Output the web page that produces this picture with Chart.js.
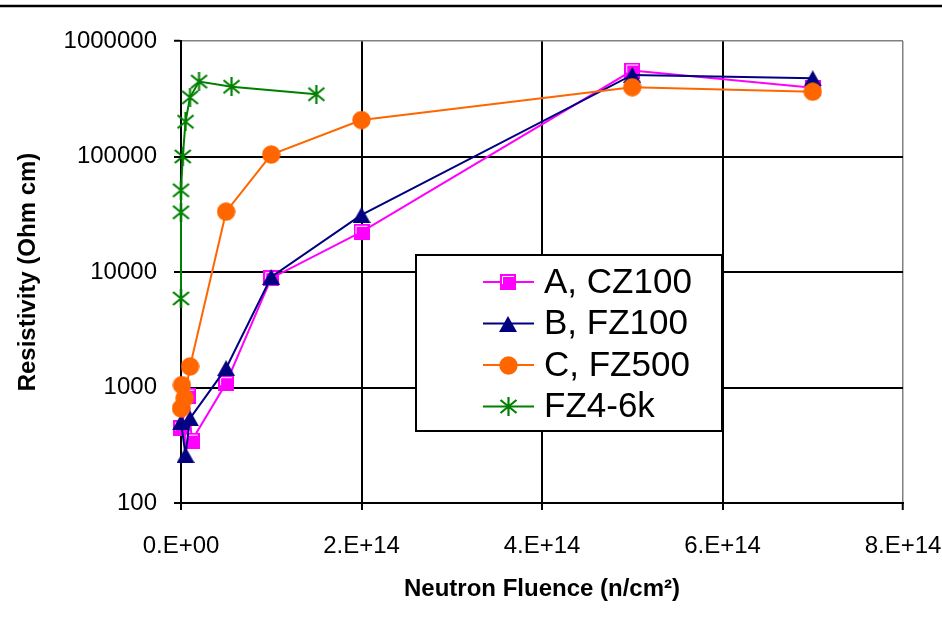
<!DOCTYPE html>
<html>
<head>
<meta charset="utf-8">
<script src="https://cdn.jsdelivr.net/npm/chart.js@4/dist/chart.umd.min.js"></script>
<style>
html, body { margin: 0; padding: 0; background: #fff; }
#wrap { position: relative; width: 942px; height: 634px; }
</style>
</head>
<body>
<div id="wrap"><canvas id="c" width="942" height="634"></canvas></div>
<script>
// Resistivity (Ohm cm) against neutron fluence (n/cm^2) for four silicon samples
const seriesNames = ['A, CZ100', 'B, FZ100', 'C, FZ500', 'FZ4-6k'];

const fluenceA = [0, 8e12, 1.2e13, 5e13, 1e14, 2e14, 5e14, 7e14];
const rhoA     = [443, 850, 347, 1090, 8850, 22300, 555000, 393000];

const fluenceB = [0, 5e12, 1e13, 5e13, 1e14, 2e14, 5e14, 7e14];
const rhoB     = [500, 261, 541, 1470, 9050, 31200, 508000, 475000];

const fluenceC = [0, 1e12, 4e12, 1e13, 5e13, 1e14, 2e14, 5e14, 7e14];
const rhoC     = [660, 1050, 810, 1520, 33300, 104000, 207000, 398000, 364000];

const fluenceD = [0, 0, 0, 2e12, 5e12, 1e13, 2e13, 5.6e13, 1.5e14];
const rhoD     = [5900, 32900, 51000, 100000, 200000, 325000, 445000, 402000, 346000];

const xTicks = [0, 2e14, 4e14, 6e14, 8e14];
const yTicks = [100, 1000, 10000, 100000, 1000000];

const FONT = 'Liberation Sans';
Chart.defaults.font.family = FONT;
Chart.defaults.color = '#000';

// Marker glyphs painted once on small canvases
function makeMarker(w, h, paint) {
  const c = document.createElement('canvas');
  c.width = w; c.height = h;
  paint(c.getContext('2d'), w, h);
  return c;
}
const squareMark = makeMarker(16, 16, (g, w, h) => {
  g.fillStyle = '#FF00FF';
  g.fillRect(0, 0, w, h);
  g.strokeStyle = '#FFFFFF';
  g.lineWidth = 1;
  g.beginPath();
  g.moveTo(2.5, h - 6);
  g.lineTo(2.5, 2.5);
  g.lineTo(w - 2, 2.5);
  g.stroke();
});
const triangleMark = makeMarker(18, 16, (g, w, h) => {
  g.fillStyle = '#000080';
  g.beginPath();
  g.moveTo(w / 2, 0);
  g.lineTo(w, h);
  g.lineTo(0, h);
  g.closePath();
  g.fill();
});
const circleMark = makeMarker(19, 19, (g, w, h) => {
  g.fillStyle = '#FF6600';
  g.beginPath();
  g.arc(w / 2, h / 2, 9.2, 0, Math.PI * 2);
  g.fill();
});
const starMark = makeMarker(19, 19, (g, w, h) => {
  g.strokeStyle = '#008000';
  g.lineWidth = 2.2;
  g.beginPath();
  g.moveTo(1.5, 3); g.lineTo(w - 1.5, h - 3);
  g.moveTo(w - 1.5, 3); g.lineTo(1.5, h - 3);
  g.moveTo(w / 2, 0); g.lineTo(w / 2, h);
  g.stroke();
});

function points(xs, ys) {
  return xs.map((x, i) => ({ x: x, y: ys[i] }));
}

function series(i, xs, ys, color, mark, order) {
  return {
    label: seriesNames[i],
    data: points(xs, ys),
    showLine: true,
    borderColor: color,
    backgroundColor: color,
    borderWidth: 2,
    pointStyle: mark,
    pointRadius: 8,
    pointHoverRadius: 8,
    clip: false,
    order: order
  };
}

function fluenceLabel(v) {
  if (v === 0) return '0.E+00';
  const e = Math.floor(Math.log10(v) + 1e-9);
  const m = Math.round(v / Math.pow(10, e));
  return m + '.E+' + String(e).padStart(2, '0');
}

// Page rule at the top and white background
const pageFrame = {
  id: 'pageFrame',
  beforeDraw(chart) {
    const ctx = chart.ctx;
    ctx.save();
    ctx.fillStyle = '#FFFFFF';
    ctx.fillRect(0, 0, chart.width, chart.height);
    ctx.strokeStyle = '#000000';
    ctx.lineWidth = 2.5;
    ctx.beginPath();
    ctx.moveTo(0, 6);
    ctx.lineTo(chart.width, 6);
    ctx.stroke();
    ctx.restore();
  }
};

// Boxed legend inside the plot area
const boxLegend = {
  id: 'boxLegend',
  afterDatasetsDraw(chart) {
    const ctx = chart.ctx;
    const a = chart.chartArea;
    const x0 = a.left + 235, y0 = a.top + 214, w = 306, h = 176;
    ctx.save();
    ctx.fillStyle = '#FFFFFF';
    ctx.fillRect(x0, y0, w, h);
    ctx.strokeStyle = '#000000';
    ctx.lineWidth = 2;
    ctx.strokeRect(x0, y0, w, h);
    ctx.font = '35px "' + FONT + '"';
    ctx.textBaseline = 'middle';
    ctx.textAlign = 'left';
    chart.data.datasets.forEach((ds, i) => {
      const cy = y0 + 27 + i * 41.5;
      ctx.strokeStyle = ds.borderColor;
      ctx.lineWidth = 2;
      ctx.beginPath();
      ctx.moveTo(x0 + 67, cy);
      ctx.lineTo(x0 + 118, cy);
      ctx.stroke();
      const img = ds.pointStyle;
      ctx.drawImage(img, Math.round(x0 + 92 - img.width / 2), Math.round(cy - img.height / 2));
      ctx.fillStyle = '#000000';
      ctx.fillText(ds.label, x0 + 128, cy + 1);
    });
    ctx.restore();
  }
};

new Chart(document.getElementById('c'), {
  type: 'scatter',
  data: {
    datasets: [
      series(0, fluenceA, rhoA, '#FF00FF', squareMark, 4),
      series(1, fluenceB, rhoB, '#000080', triangleMark, 3),
      series(2, fluenceC, rhoC, '#FF6600', circleMark, 2),
      series(3, fluenceD, rhoD, '#008000', starMark, 1)
    ]
  },
  options: {
    responsive: false,
    animation: false,
    events: [],
    layout: { padding: { left: 0, right: 39, top: 41, bottom: 0 } },
    plugins: {
      legend: { display: false },
      tooltip: { enabled: false }
    },
    scales: {
      x: {
        type: 'linear',
        min: 0,
        max: 8e14,
        afterBuildTicks: (s) => { s.ticks = xTicks.map(v => ({ value: v })); },
        afterFit: (s) => { s.height = 131; s.paddingLeft = 0; s.paddingRight = 0; },
        ticks: {
          callback: (v) => fluenceLabel(v),
          font: { size: 24 },
          color: '#000',
          padding: 22,
          autoSkip: false,
          maxRotation: 0
        },
        grid: {
          color: (c) => (c.tick && c.tick.value === 8e14) ? '#808080' : '#000000',
          lineWidth: (c) => (c.tick && c.tick.value === 8e14) ? 1.5 : 2,
          drawTicks: true,
          tickLength: 7,
          tickColor: '#000000',
          tickWidth: 2
        },
        border: { display: true, color: '#000000', width: 2 },
        title: {
          display: true,
          text: 'Neutron Fluence (n/cm²)',
          font: { size: 24, weight: 'bold' },
          color: '#000',
          padding: { top: 0, bottom: 30 }
        }
      },
      y: {
        type: 'logarithmic',
        min: 100,
        max: 1000000,
        afterBuildTicks: (s) => { s.ticks = yTicks.map(v => ({ value: v })); },
        afterFit: (s) => { s.width = 181; s.paddingTop = 0; s.paddingBottom = 0; },
        ticks: {
          callback: (v) => String(v),
          font: { size: 24 },
          color: '#000',
          padding: 17,
          autoSkip: false
        },
        grid: {
          color: (c) => (c.tick && c.tick.value === 1000000) ? '#808080' : '#000000',
          lineWidth: (c) => (c.tick && c.tick.value === 1000000) ? 1.5 : 2,
          drawTicks: true,
          tickLength: 7,
          tickColor: '#000000',
          tickWidth: 2
        },
        border: { display: true, color: '#000000', width: 2 },
        title: {
          display: true,
          text: 'Resistivity (Ohm cm)',
          font: { size: 24, weight: 'bold' },
          color: '#000',
          padding: { top: 14, bottom: 0 }
        }
      }
    }
  },
  plugins: [pageFrame, boxLegend]
});
</script>
</body>
</html>
